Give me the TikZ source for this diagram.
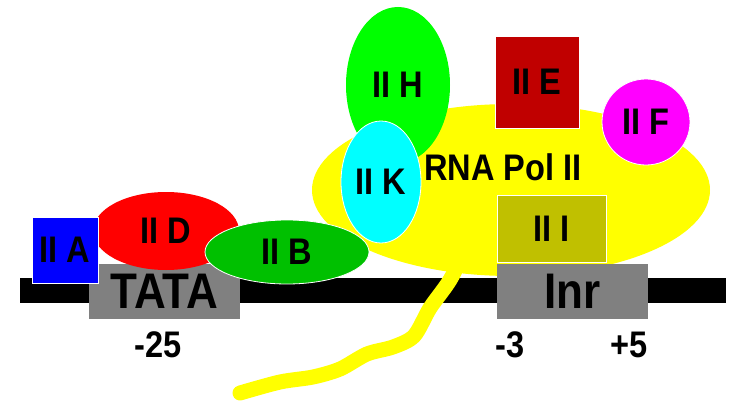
\documentclass[tikz,border=0pt]{standalone}
\usepackage{fontspec}
\setmainfont[FakeStretch=0.88]{Liberation Sans}
\usetikzlibrary{shapes.geometric}
\definecolor{colA}{RGB}{0,0,255}
\definecolor{colB}{RGB}{0,192,0}
\definecolor{colD}{RGB}{255,0,0}
\definecolor{colE}{RGB}{192,0,0}
\definecolor{colF}{RGB}{255,0,255}
\definecolor{colH}{RGB}{0,255,0}
\definecolor{colI}{RGB}{192,192,0}
\definecolor{colK}{RGB}{0,255,255}
\definecolor{colP}{RGB}{255,255,0}
\definecolor{colS}{RGB}{128,128,128}

\begin{document}
\begin{tikzpicture}[
		x=1pt,y=-1pt,
		every node/.style={inner sep=0pt,font=\bfseries\fontsize{37}{42}\selectfont},
		blob/.style={ellipse,draw=white,line width=0.8pt},
		box/.style={rectangle,draw=white,line width=0.8pt},
		site/.style={rectangle,fill=colS,minimum width=151pt,minimum height=55pt,font=\bfseries\fontsize{50}{56}\selectfont},
		numlab/.style={font=\bfseries\fontsize{37}{42}\selectfont}
	]
	\useasboundingbox (0,0) rectangle (729,404);

	%DNA and the tail of the polymerase
		\node[rectangle,fill=black,minimum width=706pt,minimum height=25pt] (dna) at (373,290.5) {};
		\draw[colP,line width=15pt,line cap=round] plot[smooth] coordinates
			{(465,250) (450,280) (430,308) (414,336) (393,347) (367,354) (340,369) (313,377) (280,382) (240,393)};

	%RNA Pol II and its factors
		\node[ellipse,fill=colP,minimum width=398pt,minimum height=172pt] (pol) at (511,190) {};
		\node[blob,draw=none,fill=colH,minimum width=104pt,minimum height=156pt] (tfh) at (398,85) {II H};
		\node[blob,fill=colK,minimum width=80pt,minimum height=122pt] (tfk) at (381,182) {II K};
		\node[box,fill=colE,minimum width=84pt,minimum height=92pt] (tfe) at (537,82) {II E};
		\node[blob,fill=colF,minimum width=88pt,minimum height=86pt] (tff) at (646,122) {II F};
		\node[box,fill=colI,minimum width=109pt,minimum height=67pt] (tfi) at (551.5,228.5) {II I};

	%promoter elements
		\node[site] (inr) at (572.5,291.5) {Inr};
		\node[site] (tata) at (164.5,291.5) {TATA};

	%factors on the TATA box
		\node[blob,draw=none,fill=colD,minimum width=146pt,minimum height=78pt] (tfd) at (166,231) {II D};
		\node[box,fill=colA,minimum width=66pt,minimum height=66pt] (tfa) at (65,250) {II A};
		\node[blob,fill=colB,minimum width=164pt,minimum height=64pt] (tfb) at (287,252) {II B};

		\node (polname) at (503,167) {RNA Pol II};

	%positions
		\foreach \n/\x/\t in {m25/158/-25, m3/510/-3, p5/629/+5}
			\node[numlab] (\n) at (\x,345) {\t};
	\end{tikzpicture}
\end{document}
